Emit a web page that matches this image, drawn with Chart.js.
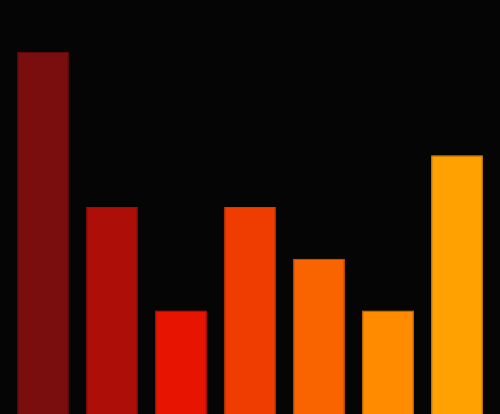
<!DOCTYPE html>
<html>
<head>
<meta charset="utf-8">
<script src="https://cdn.jsdelivr.net/npm/chart.js@4"></script>
<style>
  html, body { margin: 0; padding: 0; background: #050505; }
  #wrap { width: 500px; height: 414px; }
</style>
</head>
<body>
<div id="wrap"><canvas id="bars"></canvas></div>
<script>
/* --------------- Data --------------- */
var categories = ["A", "B", "C", "D", "E", "F", "G"];
var values = [7, 4, 2, 4, 3, 2, 5];
var barColors = ["#7a0d0e", "#ad0f08", "#e61400", "#ef3c00", "#f96400", "#ff8b00", "#ffa100"];
var edgeColors = ["#6e0b0c", "#9e0d07", "#d81200", "#e03700", "#ea5c00", "#f08200", "#f09600"];

/* --------------- Chart --------------- */
var barChart = new Chart(document.getElementById("bars"), {
  type: "bar",
  data: {
    labels: categories,
    datasets: [
      {
        data: values,
        backgroundColor: barColors,
        borderColor: edgeColors,
        borderWidth: 1,
        barPercentage: 1,
        categoryPercentage: 0.75,
      },
    ],
  },
  options: {
    responsive: true,
    maintainAspectRatio: false,
    animation: false,
    layout: { padding: { left: 8.5, right: 8.5, top: 0, bottom: 0 } },
    plugins: {
      legend: { display: false },
      tooltip: { enabled: false },
    },
    scales: {
      x: { display: false },
      y: { display: false, min: 0, max: 8 },
    },
  },
});
</script>
</body>
</html>
